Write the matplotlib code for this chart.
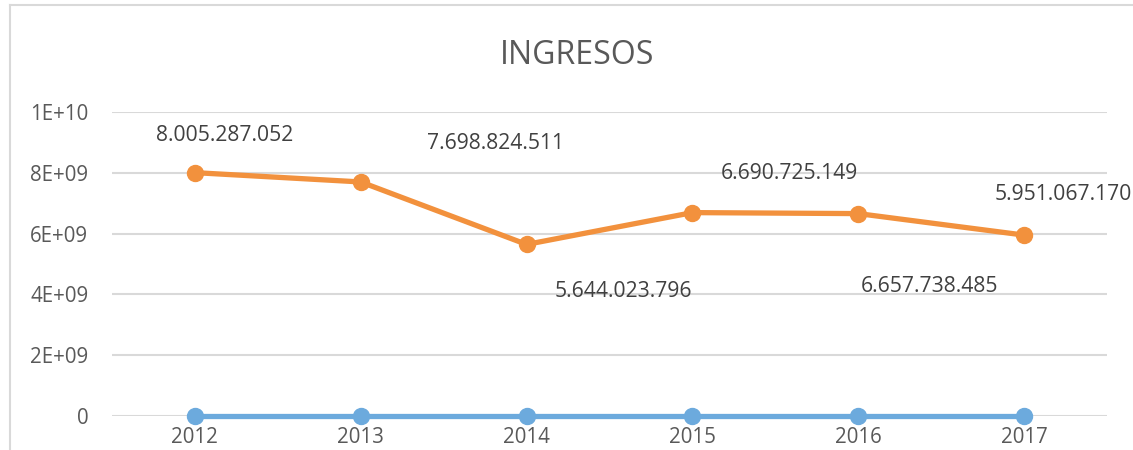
import matplotlib
matplotlib.use("Agg")
import matplotlib.pyplot as plt
from matplotlib.lines import Line2D

years = ["2012", "2013", "2014", "2015", "2016", "2017"]
ingresos = [8005287052, 7698824511, 5644023796, 6690725149, 6657738485, 5951067170]
serie_base = [0, 0, 0, 0, 0, 0]
value_labels = ["8.005.287.052", "7.698.824.511", "5.644.023.796",
                "6.690.725.149", "6.657.738.485", "5.951.067.170"]
y_ticks = [0, 2e9, 4e9, 6e9, 8e9, 1e10]
y_tick_labels = ["0", "2E+09", "4E+09", "6E+09", "8E+09", "1E+10"]

# label offsets in pixels (dx, dy) relative to each point
label_offsets_px = [(30, 37), (135, 38), (97, -47), (97, 39), (71, -73), (39, 41)]

plt.rcParams['font.family'] = ['Open Sans', 'DejaVu Sans']
W, H = 1133, 450
fig = plt.figure(figsize=(W / 100, H / 100), dpi=100)
ax = fig.add_axes([112 / W, (H - 416) / H, (1107 - 112) / W, (416 - 112) / H])

x = list(range(len(years)))
orange = "#F2913D"
blue = "#6CAADD"
ax.plot(x, serie_base, color=blue, lw=3.8, marker="o", ms=11.5, zorder=3, clip_on=False)
ax.plot(x, ingresos, color=orange, lw=3.8, marker="o", ms=11.5, zorder=4, clip_on=False)

for xi, v, lab, (dx, dy) in zip(x, ingresos, value_labels, label_offsets_px):
    ax.annotate(lab, (xi, v), xytext=(dx * 0.72, dy * 0.72), textcoords="offset points",
                ha="center", va="center", fontsize=15.2, color="#404040")

ax.set_xlim(-0.5, 5.5)
ax.set_ylim(0, 1e10)
ax.set_yticks(y_ticks)
ax.set_yticklabels(y_tick_labels)
ax.set_xticks(x)
ax.set_xticklabels(years)
ax.tick_params(axis="both", length=0, labelsize=14.8, labelcolor="#595959")
ax.tick_params(axis="y", pad=17)
ax.tick_params(axis="x", pad=8)
ax.grid(axis="y", color="#D9D9D9", lw=1.5, zorder=0)
ax.set_axisbelow(True)
for s in ax.spines.values():
    s.set_visible(False)

fig.text(577 / W, 1 - 55 / H, "INGRESOS", ha="center", va="center", fontsize=23, color="#595959")

# outer chart frame
fig.add_artist(Line2D([10 / W, 10 / W], [0, 1 - 5 / H], transform=fig.transFigure, color="#D9D9D9", lw=1.5))
fig.add_artist(Line2D([10 / W, 1], [1 - 5 / H, 1 - 5 / H], transform=fig.transFigure, color="#D9D9D9", lw=1.5))

fig.savefig("out.png", dpi=100)
